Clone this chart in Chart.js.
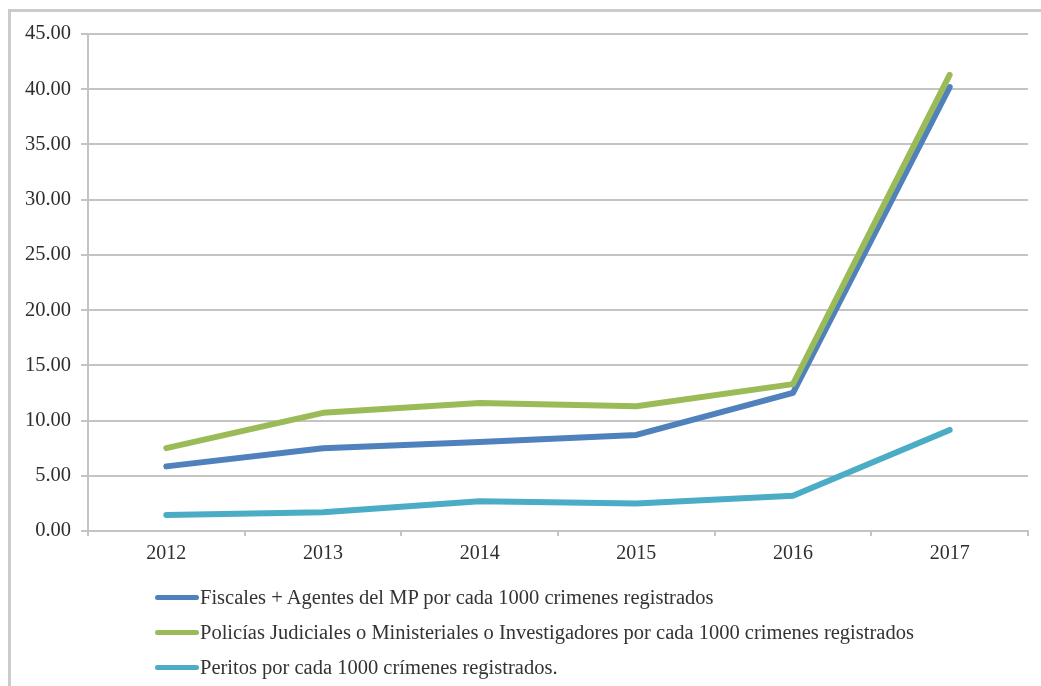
<!DOCTYPE html>
<html>
<head>
<meta charset="utf-8">
<script src="https://cdn.jsdelivr.net/npm/chart.js@4.4.1/dist/chart.umd.min.js"></script>
<style>
  html, body { margin: 0; padding: 0; background: #fff; }
  #wrap { position: relative; width: 1041px; height: 686px; overflow: hidden; }
  #frame {
    position: absolute; left: 8px; top: 9px; right: -10px; bottom: -10px;
    border-left: 3px solid #cbcbcb; border-top: 3px solid #cbcbcb;
  }
  #chart { position: absolute; left: 0; top: 0; }
  #legend {
    position: absolute; left: 155px; top: 580px;
    font-family: "Liberation Serif", "Times New Roman", serif;
    font-size: 20.5px; color: #333;
  }
  .item { display: flex; align-items: center; height: 35px; }
  .swatch { width: 44px; height: 5px; border-radius: 3px; margin-right: 1px; }
</style>
</head>
<body>
<div id="wrap">
  <div id="frame"></div>
  <canvas id="chart" width="1041" height="686"></canvas>
  <div id="legend"></div>
</div>
<script>
const years = ["2012", "2013", "2014", "2015", "2016", "2017"];

const fiscales = [5.85, 7.5, 8.05, 8.7, 12.5, 40.2];
const policias = [7.5, 10.7, 11.6, 11.3, 13.3, 41.3];
const peritos = [1.45, 1.7, 2.7, 2.5, 3.2, 9.15];

const seriesNames = [
  "Fiscales + Agentes del MP por cada 1000 crimenes registrados",
  "Policías Judiciales o Ministeriales o Investigadores por cada 1000 crimenes registrados",
  "Peritos por cada 1000 crímenes registrados."
];
const seriesColors = ["#4f81bd", "#9bbb59", "#4bacc6"];

const fontFamily = '"Liberation Serif", "Times New Roman", serif';
const gridColor = "#c4c4c4";

function lineSet(label, data, color, order) {
  return {
    label, data, order,
    borderColor: color,
    backgroundColor: color,
    borderWidth: 6,
    borderCapStyle: "round",
    borderJoinStyle: "round",
    pointRadius: 0,
    tension: 0,
    fill: false
  };
}

new Chart(document.getElementById("chart"), {
  type: "line",
  data: {
    labels: years,
    datasets: [
      lineSet(seriesNames[0], fiscales, seriesColors[0], 2),
      lineSet(seriesNames[1], policias, seriesColors[1], 1),
      lineSet(seriesNames[2], peritos, seriesColors[2], 3)
    ]
  },
  options: {
    responsive: false,
    animation: false,
    layout: { padding: { left: 0, top: 34, right: 13, bottom: 111 } },
    plugins: { legend: { display: false }, tooltip: { enabled: false } },
    scales: {
      x: {
        offset: true,
        grid: {
          offset: true,
          drawOnChartArea: false,
          tickLength: 5,
          color: gridColor,
          lineWidth: 2
        },
        border: { color: gridColor, width: 2 },
        ticks: {
          color: "#2e2e2e",
          font: { family: fontFamily, size: 20 },
          padding: 6
        },
        afterFit: s => { s.height = 44; }
      },
      y: {
        min: 0,
        max: 45,
        grid: { color: gridColor, lineWidth: 2, tickLength: 7 },
        border: { color: gridColor, width: 2 },
        ticks: {
          stepSize: 5,
          color: "#2e2e2e",
          font: { family: fontFamily, size: 20.5 },
          padding: 10,
          callback: v => v.toFixed(2)
        },
        afterFit: s => { s.width = 88; }
      }
    }
  }
});

// legend stacked under the plot, one series per row
const legend = document.getElementById("legend");
seriesNames.forEach((name, i) => {
  const row = document.createElement("div");
  row.className = "item";
  const sw = document.createElement("span");
  sw.className = "swatch";
  sw.style.background = seriesColors[i];
  const txt = document.createElement("span");
  txt.textContent = name;
  row.appendChild(sw);
  row.appendChild(txt);
  legend.appendChild(row);
});
</script>
</body>
</html>
